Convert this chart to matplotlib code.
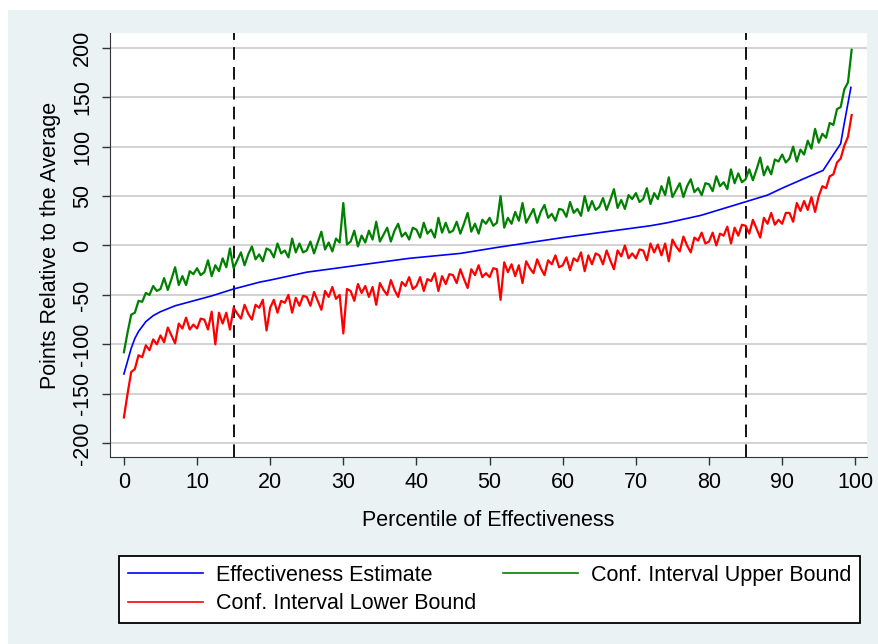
import matplotlib
matplotlib.use("Agg")
import matplotlib.pyplot as plt
import numpy as np

plt.rcParams['font.family'] = ['Liberation Sans', 'DejaVu Sans']
plt.rcParams['axes.unicode_minus'] = False

# percentile positions for the two bounds (every half percentile)
pct = np.arange(200) * 0.5

upper = [
    -108, -88, -70, -68, -56, -57, -48, -50, -41, -46,
    -44, -33, -45, -34, -22, -40, -31, -40, -26, -29,
    -23, -30, -27, -15, -31, -20, -26, -13, -22, -3,
    -23, -15, -7, -20, -9, -1, -14, -9, -16, -3,
    -5, -12, 2, -8, -5, -12, 7, -7, 2, -7,
    -5, 4, -8, 3, 14, -4, 3, -6, 7, 3,
    43, 1, 4, 15, -1, 10, 3, 15, 6, 24,
    4, 11, 18, 4, 15, 22, 9, 13, 6, 18,
    16, 8, 23, 12, 16, 8, 28, 13, 23, 13,
    15, 24, 12, 22, 33, 14, 22, 12, 26, 22,
    28, 20, 23, 50, 18, 28, 22, 34, 25, 43,
    23, 30, 37, 23, 34, 41, 28, 32, 25, 37,
    36, 29, 44, 33, 37, 30, 50, 35, 45, 36,
    39, 48, 36, 46, 57, 38, 46, 37, 51, 47,
    53, 44, 47, 58, 42, 53, 47, 60, 51, 69,
    49, 56, 63, 49, 60, 67, 54, 58, 51, 63,
    62, 55, 70, 60, 64, 57, 77, 63, 73, 64,
    67, 77, 66, 77, 89, 71, 80, 72, 87, 85,
    92, 84, 88, 100, 85, 97, 92, 106, 98, 118,
    104, 113, 109, 124, 122, 138, 140, 158, 165, 198,
]

lower = [
    -174, -150, -128, -125, -111, -113, -101, -106, -95, -100,
    -91, -98, -83, -91, -99, -79, -84, -73, -85, -80,
    -84, -74, -75, -85, -67, -100, -68, -79, -68, -85,
    -63, -69, -74, -60, -69, -75, -60, -63, -55, -86,
    -63, -55, -68, -56, -58, -50, -68, -53, -61, -51,
    -52, -61, -47, -56, -65, -46, -52, -42, -54, -50,
    -89, -44, -46, -56, -39, -48, -41, -52, -42, -60,
    -38, -45, -50, -35, -45, -52, -37, -41, -32, -44,
    -41, -32, -46, -34, -36, -28, -46, -31, -39, -29,
    -30, -38, -24, -34, -43, -24, -30, -20, -32, -28,
    -32, -23, -24, -55, -17, -27, -19, -31, -20, -38,
    -16, -23, -28, -14, -23, -30, -15, -19, -10, -22,
    -20, -12, -25, -13, -16, -7, -26, -10, -19, -8,
    -10, -19, -5, -15, -24, -5, -11, 0, -13, -8,
    -13, -4, -5, -15, 2, -7, 1, -10, 2, -16,
    6, -1, -6, 9, 0, -7, 8, 5, 13, 2,
    4, 13, 0, 12, 10, 19, 2, 18, 10, 21,
    20, 12, 26, 17, 8, 28, 22, 33, 21, 26,
    22, 33, 33, 24, 43, 35, 45, 36, 49, 34,
    50, 60, 58, 70, 72, 84, 88, 101, 110, 132,
]

est_pct = [0, 0.5, 1, 1.5, 2, 3, 4, 5, 7, 9.5, 12, 15, 18.6, 20, 25, 32, 39, 46,
           51, 60, 66, 72, 74.3, 78.9, 83.4, 88, 90, 93.4, 95.6, 97.1, 98, 98.4, 98.9, 99.4]
estimate = [-130, -117, -104, -94, -87, -77, -71, -67, -61, -56, -51, -44, -37, -35,
            -27, -20, -13, -8, -2, 8, 14, 20, 23, 30.5, 40.6, 51, 58, 69, 76, 93,
            103, 120, 140, 160]

fig = plt.figure(figsize=(8.79, 6.44), dpi=100, facecolor='white')
fig.patches.append(plt.Rectangle((8 / 879, 0), 1, 1 - 10 / 644, transform=fig.transFigure,
                                 facecolor='#EAF2F3', edgecolor='none', zorder=-10))

ax = fig.add_axes([110 / 879, 1 - 457 / 644, 757 / 879, 424 / 644])
ax.set_facecolor('white')

for v in np.arange(-200, 201, 50):
    ax.axhline(v, color='#CFCFCF', lw=1.3, zorder=1)
for v in [15, 85]:
    ax.axvline(v, color='black', lw=1.3, ls=(0, (7, 4)), zorder=1)

l_est, = ax.plot(est_pct, estimate, color='#0000FF', lw=1.2, zorder=4)
l_up, = ax.plot(pct, upper, color='#008000', lw=1.6, zorder=3)
l_lo, = ax.plot(pct, lower, color='#FF0000', lw=1.6, zorder=3)

ax.set_xlim(-1.9, 101.6)
ax.set_ylim(-214, 215)
ax.set_xticks(np.arange(0, 101, 10))
ax.set_yticks(np.arange(-200, 201, 50))
ax.tick_params(labelsize=15.5, length=6, width=1, color='#333333')
ax.tick_params(axis='y', pad=6)
ax.tick_params(axis='x', pad=5)
for lab in ax.get_yticklabels():
    lab.set_rotation(90)
    lab.set_va('center')

for s in ['top', 'right']:
    ax.spines[s].set_visible(False)
ax.spines['left'].set_color('#333333')
ax.spines['bottom'].set_color('#333333')

ax.set_xlabel('Percentile of Effectiveness', fontsize=15.5, labelpad=12)
ax.set_ylabel('Points Relative to the Average', fontsize=15.5, labelpad=8)

leg = fig.legend([l_est, l_lo, l_up],
                 ['Effectiveness Estimate', 'Conf. Interval Lower Bound', 'Conf. Interval Upper Bound'],
                 ncol=2, loc='lower left', mode='expand',
                 bbox_to_anchor=(119 / 879, 1 - 623 / 644, 741 / 879, 71 / 644),
                 fontsize=15.5, frameon=True, fancybox=False, handlelength=3.5,
                 handletextpad=0.6, borderaxespad=0, labelspacing=0.35, columnspacing=2)
for h in leg.get_lines():
    h.set_linewidth(1.2)
leg.get_frame().set_edgecolor('black')
leg.get_frame().set_linewidth(1.3)
leg.get_frame().set_alpha(1)

fig.savefig('out.png', dpi=100, facecolor=fig.get_facecolor())
